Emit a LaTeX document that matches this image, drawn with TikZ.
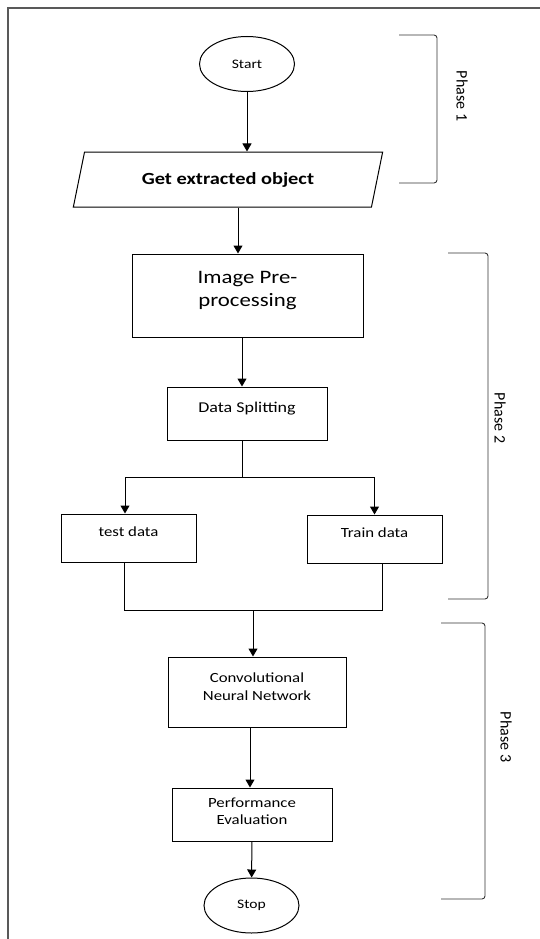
\documentclass[tikz,border=0pt]{standalone}
\usepackage{fontspec}
\setmainfont{Carlito}[FakeStretch=1.2]
\newfontfamily\phasefont{Carlito}
\usetikzlibrary{shapes.geometric,arrows.meta}

\begin{document}
\begin{tikzpicture}[x=1pt, y=-1pt]
    % Styles
    \tikzstyle{terminal} = [ellipse, draw, line width=1pt, inner sep=0pt,
        minimum width=95pt, minimum height=55pt, font=\fontsize{13}{15}\selectfont]
    \tikzstyle{iobox} = [trapezium, trapezium left angle=72, trapezium right angle=108,
        trapezium stretches=true, draw, line width=1pt, minimum width=310pt,
        minimum height=55pt, font=\bfseries\fontsize{17}{20}\selectfont]
    \tikzstyle{process} = [rectangle, draw, line width=1pt, inner sep=0pt, align=center]
    \tikzstyle{arrow} = [line width=1pt,-{Triangle[length=8pt,width=9pt]}]
    \tikzstyle{line} = [line width=1pt]
    \tikzstyle{phase} = [line width=0.9pt, black!80, rounded corners=3pt]
    \tikzstyle{phaselabel} = [rotate=-90, font=\phasefont\fontsize{16}{18}\selectfont]

    \useasboundingbox (0,0) rectangle (540,939);

    % Frame
    \draw [line width=1.3pt, black!65] (540,8) -- (8,8) -- (8,939);

    % === Phase 1 ===
    \node [terminal] (start) at (247,64) {Start};
    \node [iobox] (getobj) at (228,179.5) {Get extracted object};

    % === Phase 2 ===
    \node [process, minimum width=231pt, text height=52pt, text depth=31pt,
        font=\fontsize{19}{23}\selectfont] (prep) at (247.5,295.5) {Image Pre-\\processing};
    \node [process, minimum width=160pt, text height=25pt, text depth=28pt,
        font=\fontsize{15}{18}\selectfont] (split) at (247,413.5) {Data Splitting};
    \node [process, minimum width=135pt, text height=22pt, text depth=26pt,
        font=\fontsize{14}{17}\selectfont] (test) at (128.5,538) {test data};
    \node [process, minimum width=135pt, text height=22pt, text depth=26pt,
        font=\fontsize{14}{17}\selectfont] (train) at (374.5,539) {Train data};

    % === Phase 3 ===
    \node [process, minimum width=178pt, text height=43pt, text depth=27pt,
        font=\fontsize{14}{18}\selectfont] (cnn) at (257,692) {Convolutional\\Neural Network};
    \node [process, minimum width=160pt, text height=36pt, text depth=17pt,
        font=\fontsize{14}{17}\selectfont] (perf) at (252,814.5) {Performance\\Evaluation};
    \node [terminal] (stop) at (251.5,905.5) {Stop};

    % === ARROWS ===
    \coordinate (fork) at (242,477);
    \coordinate (merge) at (253,610);
    \draw [arrow] (start) -- (start |- getobj.north);
    \draw [arrow] ([xshift=-9.5pt]prep.north |- getobj.south) -- ([xshift=-9.5pt]prep.north);
    \draw [arrow] ([xshift=-5.5pt]prep.south) -- ([xshift=-5.5pt]prep.south |- split.north);
    \draw [line] (split.south -| fork) -- (fork);
    \draw [arrow] (fork) -| ([xshift=-3.5pt]test.north);
    \draw [arrow] (fork) -| (train.north);
    \draw [line] ([xshift=-4.5pt]test.south) |- (merge);
    \draw [line] ([xshift=7.5pt]train.south) |- (merge);
    \draw [arrow] (merge) -- (merge |- cnn.north);
    \draw [arrow] ([xshift=-7pt]cnn.south) -- ([xshift=-7pt]cnn.south |- perf.north);
    \draw [arrow] (perf) -- (stop);

    % === Phase brackets ===
    \draw [phase] (399,35) -- (437,35) -- (437,183) -- (399,183);
    \draw [phase] (448,253) -- (488,253) -- (488,599) -- (448,599);
    \draw [phase] (441,623) -- (485,623) -- (485,899) -- (441,899);
    \node [phaselabel] (phase1) at (462,96) {Phase 1};
    \node [phaselabel] (phase2) at (500,418) {Phase 2};
    \node [phaselabel] (phase3) at (506,737) {Phase 3};

\end{tikzpicture}
\end{document}
